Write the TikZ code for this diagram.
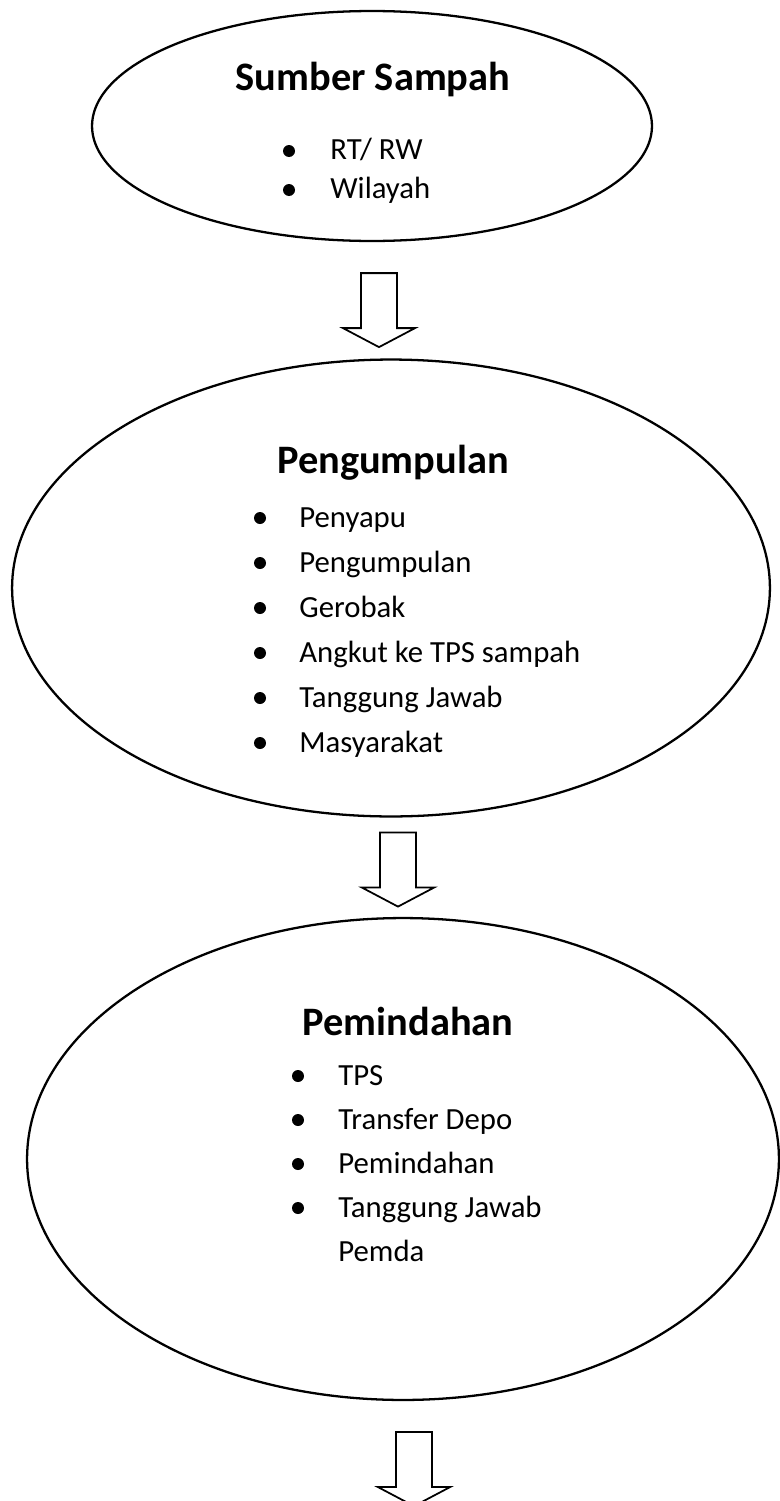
\documentclass[tikz,border=0pt]{standalone}
\usepackage{fontspec}
\setmainfont{Carlito}
\usetikzlibrary{shapes.geometric,calc}

\tikzset{
  blob/.style={draw, ellipse, line width=1.3pt, inner sep=0pt},
  judul/.style={anchor=base, inner sep=0pt, font=\bfseries\fontsize{23}{28}\selectfont},
  butir/.style={anchor=base west, inner sep=0pt, font=\fontsize{17.5}{20}\selectfont},
  panah/.pic={\draw[line width=1pt] (-18,0) -- (-18,55) -- (-36,55) -- (0,74) -- (36,55) -- (18,55) -- (18,0) -- cycle;}
}

\begin{document}
\begin{tikzpicture}[x=0.02cm,y=-0.02cm]
\useasboundingbox (0,0) rectangle (780,1501);

% sumber sampah
\node[blob, minimum width=11.2cm, minimum height=4.6cm] (sumber) at (372,126) {};
\node[judul] (t1) at (373,90) {Sumber Sampah};
\node[butir] (s1) at (330,159) {RT/ RW};
\node[butir] (s2) at (330,198) {Wilayah};
\foreach \n in {s1,s2}
  \fill ([shift={(-41,-8)}]\n.base west) circle (0.12cm);

% pengumpulan
\node[blob, minimum width=15.16cm, minimum height=9.14cm] (kumpul) at (391,588) {};
\node[judul] (t2) at (393,473) {Pengumpulan};
\foreach \t [count=\i] in {Penyapu, Pengumpulan, Gerobak, Angkut ke TPS sampah, Tanggung Jawab, Masyarakat} {
  \node[butir] (k\i) at (299,482+45*\i) {\t};
  \fill ([shift={(-39,-9)}]k\i.base west) circle (0.12cm);
}

% pemindahan
\node[blob, minimum width=15.04cm, minimum height=9.64cm] (pindah) at (403,1159) {};
\node[judul] (t3) at (408,1035) {Pemindahan};
\foreach \t [count=\i] in {TPS, Transfer Depo, Pemindahan, Tanggung Jawab} {
  \node[butir] (p\i) at (338,1041+44*\i) {\t};
  \fill ([shift={(-40,-9)}]p\i.base west) circle (0.12cm);
}
\node[butir] (p5) at (338,1261) {Pemda};

\pic at ($(sumber.south)+(7,31)$) {panah};
\pic at ($(kumpul.south)+(7,15)$) {panah};
\pic at ($(pindah.south)+(11,31)$) {panah};
\end{tikzpicture}
\end{document}
